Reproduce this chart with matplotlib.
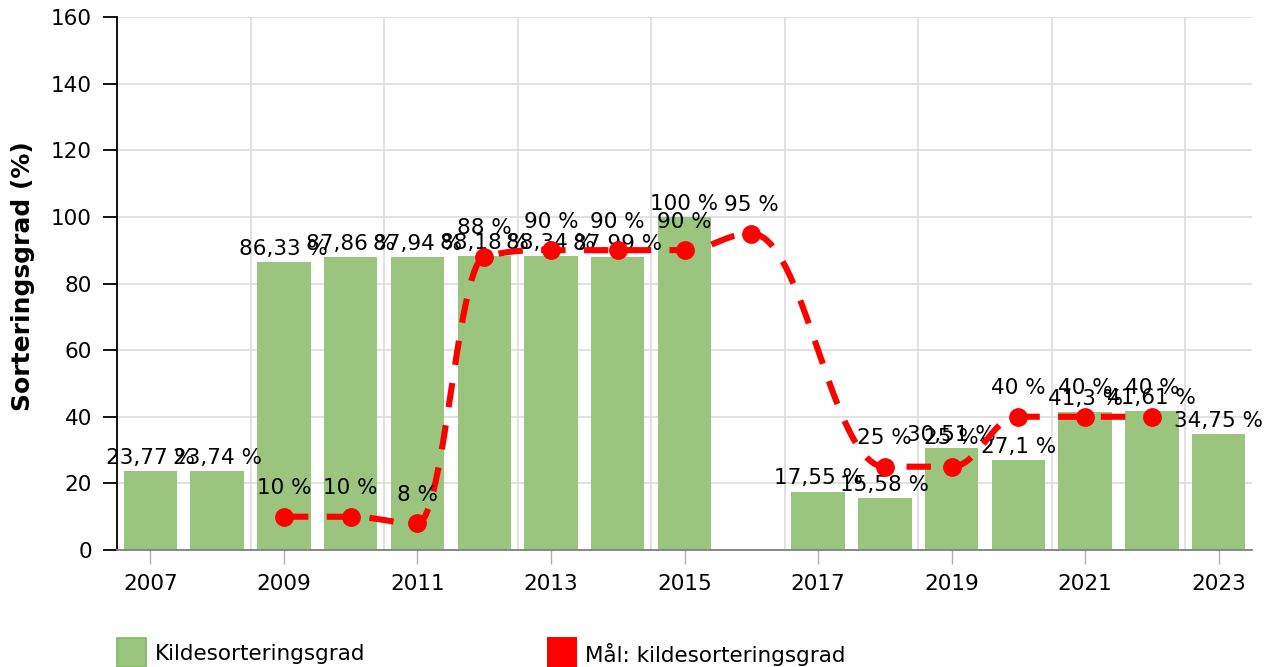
import numpy as np
import matplotlib
matplotlib.use("Agg")
import matplotlib.pyplot as plt
from matplotlib.patches import Rectangle

plt.rcParams['font.family'] = ['DejaVu Sans']

years = [2007, 2008, 2009, 2010, 2011, 2012, 2013, 2014, 2015, 2016,
         2017, 2018, 2019, 2020, 2021, 2022, 2023]
bar_values = [23.77, 23.74, 86.33, 87.86, 87.94, 88.18, 88.34, 87.99, 100, None,
              17.55, 15.58, 30.51, 27.1, 41.3, 41.61, 34.75]
goal_years = [2009, 2010, 2011, 2012, 2013, 2014, 2015, 2016, 2018, 2019, 2020, 2021, 2022]
goal_values = [10, 10, 8, 88, 90, 90, 90, 95, 25, 25, 40, 40, 40]
bar_name = "Kildesorteringsgrad"
goal_name = "Mål: kildesorteringsgrad"
y_label = "Sorteringsgrad (%)"

BAR_C = '#9bc47f'
RED = '#ff0000'
FS = 15.5


def fmt(v):
    return f"{v:g}".replace('.', ',') + " %"


def spline_path(xs, ys, smoothing=1.5, n=60):
    xs = np.asarray(xs, float)
    ys = np.asarray(ys, float)
    m = len(xs)
    lcx, lcy = xs.copy(), ys.copy()
    rcx, rcy = xs.copy(), ys.copy()
    d = smoothing + 1
    for i in range(1, m - 1):
        px, py = xs[i], ys[i]
        lx, ly = xs[i - 1], ys[i - 1]
        nx, ny = xs[i + 1], ys[i + 1]
        lX = (smoothing * px + lx) / d
        lY = (smoothing * py + ly) / d
        rX = (smoothing * px + nx) / d
        rY = (smoothing * py + ny) / d
        if rX != lX:
            corr = (rY - lY) * (rX - px) / (rX - lX) + py - rY
            lY += corr
            rY += corr
        if lY > ly and lY > py:
            lY = max(ly, py); rY = 2 * py - lY
        elif lY < ly and lY < py:
            lY = min(ly, py); rY = 2 * py - lY
        if rY > ny and rY > py:
            rY = max(ny, py); lY = 2 * py - rY
        elif rY < ny and rY < py:
            rY = min(ny, py); lY = 2 * py - rY
        lcx[i], lcy[i], rcx[i], rcy[i] = lX, lY, rX, rY
    t = np.linspace(0, 1, n)
    X, Y = [xs[0]], [ys[0]]
    for i in range(1, m):
        P0 = (xs[i - 1], ys[i - 1]); P1 = (rcx[i - 1], rcy[i - 1])
        P2 = (lcx[i], lcy[i]); P3 = (xs[i], ys[i])
        b0 = (1 - t) ** 3; b1 = 3 * (1 - t) ** 2 * t; b2 = 3 * (1 - t) * t ** 2; b3 = t ** 3
        X.extend((b0 * P0[0] + b1 * P1[0] + b2 * P2[0] + b3 * P3[0])[1:])
        Y.extend((b0 * P0[1] + b1 * P1[1] + b2 * P2[1] + b3 * P3[1])[1:])
    return np.array(X), np.array(Y)


fig = plt.figure(figsize=(12.78, 6.67), dpi=100)
ax = fig.add_axes([117 / 1278, 117 / 667, 1135 / 1278, 533 / 667])

bx = [y for y, v in zip(years, bar_values) if v is not None]
bv = [v for v in bar_values if v is not None]
ax.bar(bx, bv, width=0.8, color=BAR_C, zorder=2)
for x, v in zip(bx, bv):
    ax.annotate(fmt(v), (x, v), xytext=(0, 9.5), textcoords='offset points',
                ha='center', va='center', fontsize=FS, color='black', zorder=3)

sx, sy = spline_path(goal_years, goal_values)
ax.plot(sx, sy, color=RED, lw=4.4, linestyle=(0, (4, 3)), dash_capstyle='butt', zorder=4)
ax.plot(goal_years, goal_values, 'o', color=RED, markersize=12.5, zorder=5)
for x, v in zip(goal_years, goal_values):
    ax.annotate(fmt(v), (x, v), xytext=(0, 20.5), textcoords='offset points',
                ha='center', va='center', fontsize=FS, color='black', zorder=6)

ax.set_xlim(years[0] - 0.5, years[-1] + 0.5)
ax.set_ylim(0, 160)
ax.set_yticks(np.arange(0, 161, 20))
ax.set_xticks(years[::2])
ax.set_xticks(np.arange(years[0] + 1.5, years[-1] + 0.5, 2), minor=True)
ax.tick_params(axis='x', which='major', length=10, width=1, color='#b0b0b0', pad=7,
               labelsize=FS)
ax.tick_params(axis='x', which='minor', length=0)
ax.tick_params(axis='y', length=10, width=1.3, color='black', pad=8, labelsize=FS)
ax.grid(axis='y', which='major', color='#dcdcdc', lw=1.2, zorder=0)
ax.grid(axis='x', which='minor', color='#dcdcdc', lw=1.2, zorder=0)
ax.set_axisbelow(True)
for s in ['top', 'right']:
    ax.spines[s].set_visible(False)
ax.spines['left'].set_color('black')
ax.spines['left'].set_linewidth(1.3)
ax.spines['bottom'].set_color('#808080')
ax.spines['bottom'].set_linewidth(1.3)
ax.set_ylabel(y_label, fontsize=18, fontweight='bold')
ax.yaxis.set_label_coords(-0.0725, 0.513)

# legend
fig.patches.append(Rectangle((117 / 1278, 0), 29 / 1278, 29 / 667, transform=fig.transFigure,
                             facecolor=BAR_C, edgecolor='#82b566', lw=1.2))
fig.text(155 / 1278, 13 / 667, bar_name, fontsize=FS, va='center', ha='left')
fig.patches.append(Rectangle((547 / 1278, 0), 30 / 1278, 30 / 667, transform=fig.transFigure,
                             facecolor=RED, edgecolor=RED, lw=0))
fig.text(585 / 1278, 13 / 667, goal_name, fontsize=FS, va='center', ha='left')

fig.savefig('out.png', dpi=100)
